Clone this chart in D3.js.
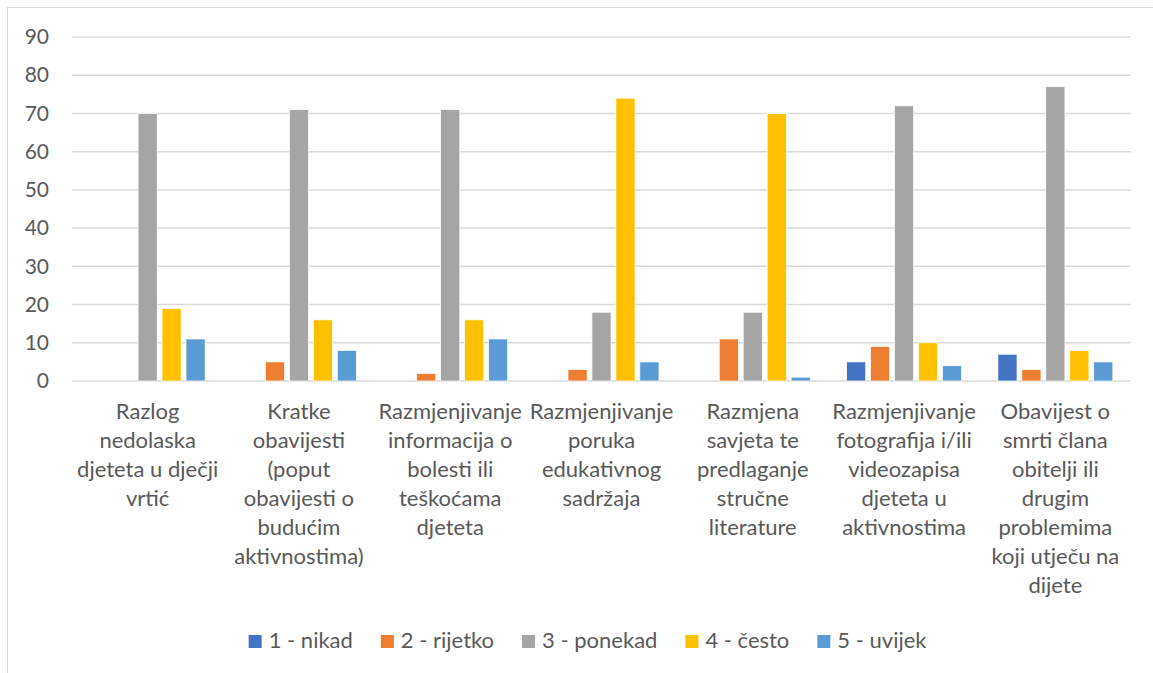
<!DOCTYPE html>
<html>
<head>
<meta charset="utf-8">
<script src="https://cdnjs.cloudflare.com/ajax/libs/d3/7.8.5/d3.min.js"></script>
<style>
  body { margin: 0; background: #fff; }
  text { font-family: Lato, "Noto Sans", sans-serif; fill: #595959; }
</style>
</head>
<body>
<div id="chart"></div>
<script>
//Categories along the x axis
var categories = [
    "Razlog nedolaska djeteta u dječji vrtić",
    "Kratke obavijesti (poput obavijesti o budućim aktivnostima)",
    "Razmjenjivanje informacija o bolesti ili teškoćama djeteta",
    "Razmjenjivanje poruka edukativnog sadržaja",
    "Razmjena savjeta te predlaganje stručne literature",
    "Razmjenjivanje fotografija i/ili videozapisa djeteta u aktivnostima",
    "Obavijest o smrti člana obitelji ili drugim problemima koji utječu na dijete"
];

//Series names and values (one value per category)
var seriesNames = ["1 - nikad", "2 - rijetko", "3 - ponekad", "4 - često", "5 - uvijek"];
var nikad   = [0, 0, 0, 0, 0, 5, 7];
var rijetko = [0, 5, 2, 3, 11, 9, 3];
var ponekad = [70, 71, 71, 18, 18, 72, 77];
var cesto   = [19, 16, 16, 74, 70, 10, 8];
var uvijek  = [11, 8, 11, 5, 1, 4, 5];
var seriesValues = [nikad, rijetko, ponekad, cesto, uvijek];
var colors = ["#4472C4", "#ED7D31", "#A5A5A5", "#FFC000", "#5B9BD5"];

var yTicks = [0, 10, 20, 30, 40, 50, 60, 70, 80, 90];

var width = 1153, height = 673;
var plot = {left: 72, right: 1131, top: 37, bottom: 381};

var svg = d3.select("#chart").append("svg")
    .attr("width", width)
    .attr("height", height);

//chart frame
svg.append("rect")
    .attr("x", 7.5).attr("y", 7.5)
    .attr("width", 1200).attr("height", 700)
    .attr("fill", "none")
    .attr("stroke", "#d9d9d9")
    .attr("stroke-width", 1);

var x0 = d3.scaleBand()
    .domain(d3.range(categories.length))
    .range([plot.left, plot.right]);

//5 bars of ~18px with 5px gaps inside each ~151px band
var x1 = d3.scaleBand()
    .domain(d3.range(seriesNames.length))
    .range([0, x0.bandwidth() * 0.76])
    .paddingInner(0.2);

var groupOffset = (x0.bandwidth() - x0.bandwidth() * 0.76) / 2;

var y = d3.scaleLinear()
    .domain([0, 90])
    .range([plot.bottom, plot.top]);

//gridlines
svg.append("g")
    .selectAll("line")
    .data(yTicks)
    .enter().append("line")
    .attr("x1", plot.left)
    .attr("x2", plot.right)
    .attr("y1", function (d) { return y(d); })
    .attr("y2", function (d) { return y(d); })
    .attr("stroke", "#d9d9d9")
    .attr("stroke-width", 1.5);

//y axis labels
var yAxis = d3.axisLeft(y).tickValues(yTicks).tickSize(0).tickPadding(0);
var yg = svg.append("g")
    .attr("transform", "translate(49,0)")
    .call(yAxis);
yg.select(".domain").remove();
yg.selectAll("text")
    .style("font-size", "21px")
    .style("font-family", "Lato, 'Noto Sans', sans-serif")
    .attr("fill", "#595959");

//bars
var groups = svg.append("g")
    .selectAll("g")
    .data(seriesValues)
    .enter().append("g")
    .attr("fill", function (d, i) { return colors[i]; });

groups.each(function (vals, si) {
    d3.select(this).selectAll("rect")
        .data(vals)
        .enter().append("rect")
        .attr("x", function (d, ci) { return x0(ci) + groupOffset + x1(si); })
        .attr("y", function (d) { return y(d); })
        .attr("width", x1.bandwidth())
        .attr("height", function (d) { return y(0) - y(d); })
        .attr("stroke", "#ffffff")
        .attr("stroke-width", 0.75);
});

//category labels, wrapped to the band width
var lineHeight = 29;
var catLabels = svg.append("g")
    .selectAll("text")
    .data(categories)
    .enter().append("text")
    .attr("text-anchor", "middle")
    .style("font-size", "22px")
    .attr("x", function (d, i) { return x0(i) + x0.bandwidth() / 2; })
    .attr("y", 419);

catLabels.each(function (d, i) {
    var text = d3.select(this);
    var words = d.split(" ");
    var maxW = x0.bandwidth() - 2;
    var line = [];
    var cx = x0(i) + x0.bandwidth() / 2;
    var tspan = text.append("tspan").attr("x", cx).attr("dy", 0);
    for (var k = 0; k < words.length; k++) {
        line.push(words[k]);
        tspan.text(line.join(" "));
        if (tspan.node().getComputedTextLength() > maxW && line.length > 1) {
            line.pop();
            tspan.text(line.join(" "));
            line = [words[k]];
            tspan = text.append("tspan").attr("x", cx).attr("dy", lineHeight).text(words[k]);
        }
    }
});

//legend
var legend = svg.append("g");
var items = legend.selectAll("g")
    .data(seriesNames)
    .enter().append("g");
items.append("rect")
    .attr("width", 13).attr("height", 13)
    .attr("y", 635)
    .attr("fill", function (d, i) { return colors[i]; });
items.append("text")
    .attr("x", 20)
    .attr("y", 648)
    .style("font-size", "22px")
    .text(function (d) { return d; });

var pos = 0;
items.each(function () {
    var w = this.getBBox().width;
    d3.select(this).attr("transform", "translate(" + pos + ",0)");
    pos += w + 28;
});
var totalW = pos - 28;
legend.attr("transform", "translate(" + (588 - totalW / 2) + ",0)");
</script>
</body>
</html>
